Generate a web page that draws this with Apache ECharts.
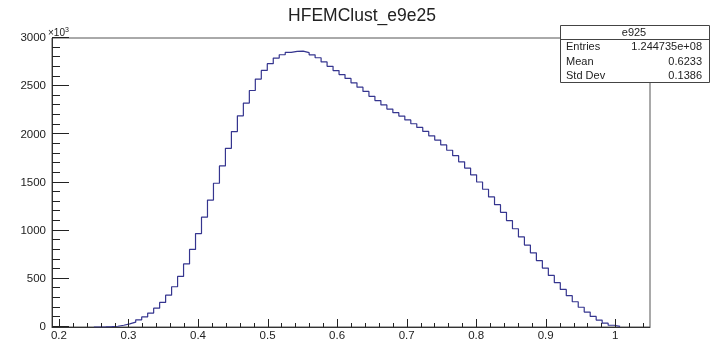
<!DOCTYPE html>
<html>
<head>
<meta charset="utf-8">
<script src="https://cdn.jsdelivr.net/npm/echarts@6/dist/echarts.min.js"></script>
<style>
  html, body { margin: 0; padding: 0; background: #fff; }
  #chart { width: 710px; height: 343px; }
</style>
</head>
<body>
<div id="chart"></div>
<script>
// ---- data ----
const titleText = 'HFEMClust_e9e25';
const binStart = 0.19;
const binWidth = 0.0086;
// bin contents (x10^3), 100 bins from 0.19 to 1.05
const counts = [
  0, 0, 0, 0, 0, 0, 0, 0, 1, 3,
  8, 18, 32, 50, 75, 105, 145, 195, 255, 330,
  418, 525, 655, 805, 970, 1140, 1318, 1492, 1672, 1855,
  2029, 2192, 2324, 2455, 2574, 2663, 2733, 2792, 2826, 2850,
  2861, 2864, 2848, 2825, 2795, 2752, 2706, 2662, 2620, 2580,
  2535, 2490, 2445, 2395, 2350, 2305, 2262, 2225, 2190, 2150,
  2110, 2072, 2030, 1985, 1940, 1890, 1835, 1778, 1715, 1650,
  1580, 1505, 1430, 1350, 1270, 1190, 1105, 1020, 935, 850,
  770, 690, 612, 535, 460, 390, 325, 262, 205, 155,
  110, 72, 40, 18, 6, 0, 0, 0, 0, 0
];
const xMin = 0.19, xMax = 1.05;
const xMajorTicks = [0.2, 0.3, 0.4, 0.5, 0.6, 0.7, 0.8, 0.9, 1.0];
const xMajorLabels = ['0.2', '0.3', '0.4', '0.5', '0.6', '0.7', '0.8', '0.9', '1'];
const xMinorTicks = [0.22, 0.24, 0.26, 0.28, 0.32, 0.34, 0.36, 0.38, 0.42, 0.44, 0.46, 0.48,
  0.52, 0.54, 0.56, 0.58, 0.62, 0.64, 0.66, 0.68, 0.72, 0.74, 0.76, 0.78,
  0.82, 0.84, 0.86, 0.88, 0.92, 0.94, 0.96, 0.98, 1.02, 1.04];
const yMin = 0, yMax = 3000, yStep = 500;
const yMajorTicks = [0, 500, 1000, 1500, 2000, 2500, 3000];
const yMinorTicks = [100, 200, 300, 400, 600, 700, 800, 900, 1100, 1200, 1300, 1400,
  1600, 1700, 1800, 1900, 2100, 2200, 2300, 2400, 2600, 2700, 2800, 2900];
const statsName = 'e925';
const statsLabels = ['Entries', 'Mean', 'Std Dev'];
const statsValues = ['1.244735e+08', '0.6233', '0.1386'];

// ---- build step data (left edge of each bin + closing edge), skipping empty tails ----
let first = 0, last = counts.length - 1;
while (first < counts.length && counts[first] === 0) first++;
while (last > 0 && counts[last] === 0) last--;
const stepData = [];
for (let k = Math.max(0, first - 1); k <= last; k++) {
  stepData.push([binStart + k * binWidth, counts[k]]);
}
stepData.push([binStart + (last + 1) * binWidth, 0]);

const chart = echarts.init(document.getElementById('chart'));
const font = 'Liberation Sans, Arial, Helvetica, sans-serif';
const axisColor = '#222';

const baseGraphics = [
  {
    type: 'text', left: 48, top: 27, z: 10,
    style: {
      text: '×10{s|3}',
      font: '10px ' + font, fill: '#222',
      rich: { s: { fontSize: 7, verticalAlign: 'top', padding: [0, 0, 5, 0] } }
    }
  },
  {
    type: 'rect', z: 20,
    shape: { x: 560.5, y: 25.5, width: 149, height: 57 },
    style: { fill: '#fff', stroke: '#444', lineWidth: 1 }
  },
  {
    type: 'line', z: 21,
    shape: { x1: 560.5, y1: 39.5, x2: 709.5, y2: 39.5 },
    style: { stroke: '#444', lineWidth: 1 }
  },
  {
    type: 'text', z: 22, x: 634, y: 32.5,
    style: { text: statsName, font: '11px ' + font, fill: '#222', textAlign: 'center', textVerticalAlign: 'middle' }
  },
  {
    type: 'text', z: 22, x: 566, y: 47,
    style: { text: statsLabels[0], font: '11px ' + font, fill: '#222', textAlign: 'left', textVerticalAlign: 'middle' }
  },
  {
    type: 'text', z: 22, x: 702, y: 47,
    style: { text: statsValues[0], font: '11px ' + font, fill: '#222', textAlign: 'right', textVerticalAlign: 'middle' }
  },
  {
    type: 'text', z: 22, x: 566, y: 61.5,
    style: { text: statsLabels[1], font: '11px ' + font, fill: '#222', textAlign: 'left', textVerticalAlign: 'middle' }
  },
  {
    type: 'text', z: 22, x: 702, y: 61.5,
    style: { text: statsValues[1], font: '11px ' + font, fill: '#222', textAlign: 'right', textVerticalAlign: 'middle' }
  },
  {
    type: 'text', z: 22, x: 566, y: 76,
    style: { text: statsLabels[2], font: '11px ' + font, fill: '#222', textAlign: 'left', textVerticalAlign: 'middle' }
  },
  {
    type: 'text', z: 22, x: 702, y: 76,
    style: { text: statsValues[2], font: '11px ' + font, fill: '#222', textAlign: 'right', textVerticalAlign: 'middle' }
  }
];

const option = {
  animation: false,
  backgroundColor: '#fff',
  title: {
    text: titleText,
    left: 357, top: 2,
    textAlign: 'center',
    textStyle: { fontFamily: font, fontSize: 17.5, fontWeight: 'normal', color: '#222' }
  },
  grid: { left: 52, right: 60, top: 38, bottom: 16, show: true, borderColor: '#555', borderWidth: 1, backgroundColor: 'transparent' },
  xAxis: {
    type: 'value', min: xMin, max: xMax,
    axisLine: { show: true, onZero: false, lineStyle: { color: '#333', width: 1 } },
    axisTick: { show: false },
    axisLabel: {
      show: true, margin: 3, customValues: xMajorTicks,
      fontFamily: font, fontSize: 11.5, color: '#222',
      formatter: function (v) {
        for (let i = 0; i < xMajorTicks.length; i++) {
          if (Math.abs(xMajorTicks[i] - v) < 1e-6) return xMajorLabels[i];
        }
        return '';
      }
    },
    splitLine: { show: false }
  },
  yAxis: {
    type: 'value', min: yMin, max: yMax, interval: yStep,
    axisLine: { show: true, onZero: false, lineStyle: { color: '#333', width: 1 } },
    axisTick: { show: false },
    axisLabel: {
      margin: 6, fontFamily: font, fontSize: 11.5, color: '#222',
      formatter: function (v) { return String(v); }
    },
    splitLine: { show: false }
  },
  series: [
    {
      type: 'line',
      step: 'end',
      symbol: 'none',
      data: stepData,
      lineStyle: { color: '#35358f', width: 1.2 }
    }
  ],
  graphic: baseGraphics
};
chart.setOption(option);

// tick marks placed through the chart's own axis scales (convertToPixel)
const tickGraphics = [];
function addTicks(values, isX, len) {
  values.forEach(function (v) {
    const p = chart.convertToPixel({ gridIndex: 0 }, isX ? [v, yMin] : [xMin, v]);
    if (!p) return;
    if (isX) {
      const x = Math.round(p[0]) + 0.5;
      tickGraphics.push({ type: 'line', z: 30, silent: true,
        shape: { x1: x, y1: p[1], x2: x, y2: p[1] - len },
        style: { stroke: axisColor, lineWidth: 1 } });
    } else {
      const y = Math.round(p[1]) - 0.5;
      tickGraphics.push({ type: 'line', z: 30, silent: true,
        shape: { x1: p[0], y1: y, x2: p[0] + len, y2: y },
        style: { stroke: axisColor, lineWidth: 1 } });
    }
  });
}
addTicks(xMajorTicks, true, 8);
addTicks(xMinorTicks, true, 4);
addTicks(yMajorTicks, false, 17);
addTicks(yMinorTicks, false, 8);
chart.setOption({ graphic: baseGraphics.concat(tickGraphics) });
</script>
</body>
</html>
